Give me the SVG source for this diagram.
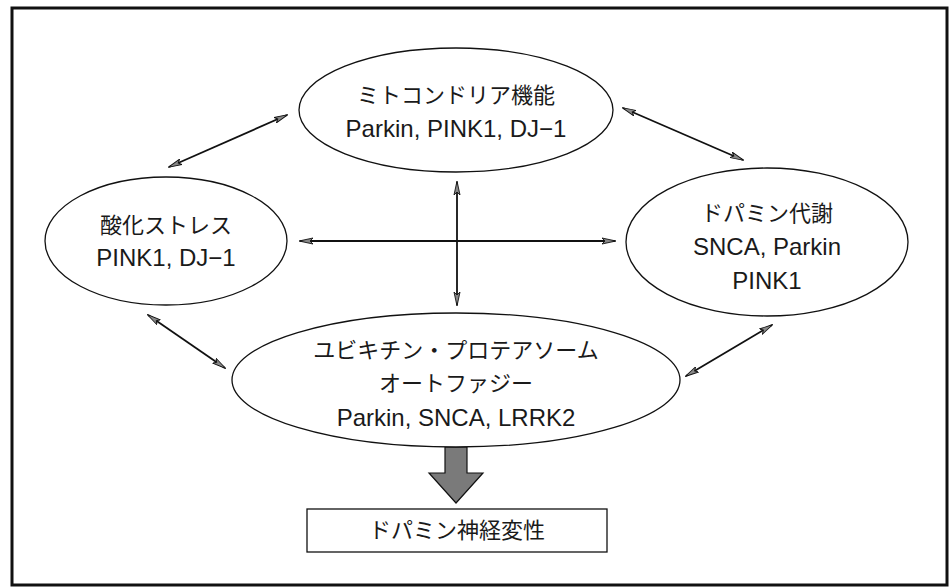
<svg xmlns="http://www.w3.org/2000/svg" width="952" height="588" viewBox="0 0 952 588">
<style>
.node ellipse{fill:#fff;stroke:#111;stroke-width:1.3}
.jp{font-family:"Liberation Sans","Noto Sans CJK JP",sans-serif;font-size:22px;fill:#1a1a1a;text-anchor:middle}
.en{font-family:"Liberation Sans","Noto Sans CJK JP",sans-serif;font-size:24px;fill:#1a1a1a;text-anchor:middle}
.conn{stroke:#111;stroke-width:1.8;fill:none;marker-start:url(#ah);marker-end:url(#ah)}
</style>
<defs>
<marker id="ah" viewBox="0 0 14 8" refX="13" refY="4" markerWidth="14" markerHeight="8" markerUnits="userSpaceOnUse" orient="auto-start-reverse">
<path d="M0,1 L14,4 L0,7 L3,4 Z" fill="#888" stroke="#111" stroke-width="0.9"/>
</marker>
</defs>
<rect x="0" y="0" width="952" height="588" fill="#fff"/>
<rect id="frame" x="12" y="8" width="935" height="577" fill="none" stroke="#111" stroke-width="3"/>
<g id="connectors">
<line class="conn" x1="169" y1="167" x2="287" y2="115"/>
<line class="conn" x1="623" y1="108" x2="743" y2="160"/>
<line class="conn" x1="300" y1="241" x2="615" y2="241"/>
<line class="conn" x1="457" y1="182" x2="457" y2="305"/>
<line class="conn" x1="148" y1="315" x2="225" y2="368"/>
<line class="conn" x1="686" y1="376" x2="772" y2="325"/>
<path id="bigarrow" d="M445,447 L467,447 L467,473 L483,473 L456,503 L429,473 L445,473 Z" fill="#7a7a7a" stroke="#111" stroke-width="1.2"/>
</g>
<g id="mito" class="node">
<ellipse cx="456" cy="110" rx="157" ry="62"/>
<text class="jp" x="456" y="103">ミトコンドリア機能</text>
<text class="en" x="456" y="137">Parkin, PINK1, DJ−1</text>
</g>
<g id="oxid" class="node">
<ellipse cx="166" cy="241" rx="121" ry="64"/>
<text class="jp" x="166" y="233">酸化ストレス</text>
<text class="en" x="166" y="266">PINK1, DJ−1</text>
</g>
<g id="dopa" class="node">
<ellipse cx="767" cy="242" rx="141" ry="74"/>
<text class="jp" x="767" y="221">ドパミン代謝</text>
<text class="en" x="767" y="255">SNCA, Parkin</text>
<text class="en" x="767" y="289">PINK1</text>
</g>
<g id="ubiq" class="node">
<ellipse cx="456" cy="380" rx="224" ry="67"/>
<text class="jp" x="456" y="358">ユビキチン・プロテアソーム</text>
<text class="jp" x="456" y="391">オートファジー</text>
<text class="en" x="456" y="426">Parkin, SNCA, LRRK2</text>
</g>
<g id="degen">
<rect x="307" y="509" width="300" height="43" fill="#fff" stroke="#111" stroke-width="1.3"/>
<text class="jp" x="457" y="538">ドパミン神経変性</text>
</g>
</svg>
